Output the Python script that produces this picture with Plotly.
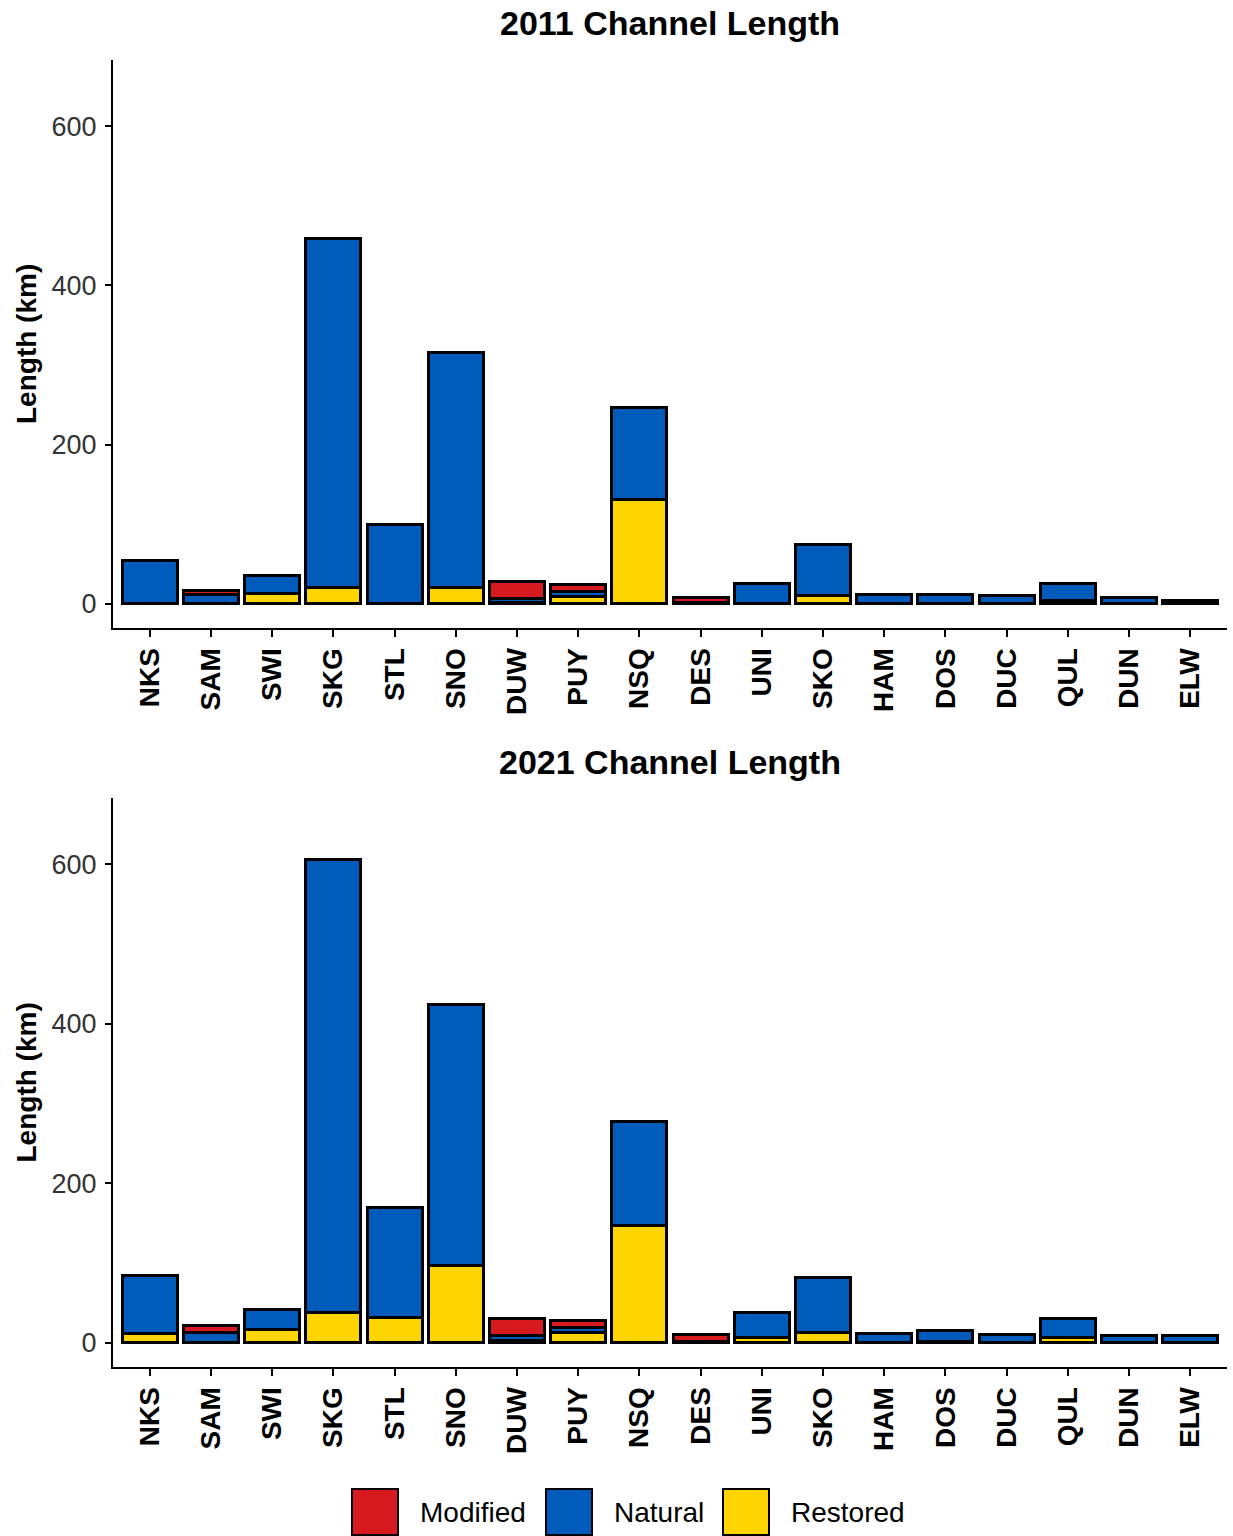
import plotly.graph_objects as go

# Watershed codes along the x axis
sites = ["NKS", "SAM", "SWI", "SKG", "STL", "SNO", "DUW", "PUY", "NSQ",
         "DES", "UNI", "SKO", "HAM", "DOS", "DUC", "QUL", "DUN", "ELW"]

# Channel length (km) by class, 2011
restored_2011 = [0, 0, 13, 20, 0, 21, 1, 9, 131, 0, 0, 10, 0, 0, 0, 4, 0, 0]
natural_2011 = [54, 11, 23, 439, 99, 294, 5, 6, 115, 1, 26, 65, 12, 12, 10, 22, 8, 4]
modified_2011 = [0, 6, 0, 0, 0, 0, 22, 9, 0, 7, 0, 0, 0, 0, 0, 0, 0, 0]

# Channel length (km) by class, 2021
restored_2021 = [12, 0, 16, 38, 31, 97, 3, 13, 147, 0, 6, 13, 0, 1, 0, 7, 0, 0]
natural_2021 = [72, 13, 25, 568, 138, 327, 6, 6, 130, 2, 32, 69, 12, 14, 10, 23, 9, 9]
modified_2021 = [0, 8, 0, 0, 0, 0, 21, 9, 0, 8, 0, 0, 0, 0, 0, 0, 0, 0]

classes = ["Modified", "Natural", "Restored"]
colors = {"Modified": "#D71A1F", "Natural": "#005BBB", "Restored": "#FFD500"}

W, H = 1233, 1536
FONT = "Liberation Sans, Arial, sans-serif"


def px_x(x):
    return x / W


def px_y(y):
    return 1 - y / H


def nz(vals):
    return [v if v else None for v in vals]


panels = [
    ("2011 Channel Length", {"Restored": restored_2011, "Natural": natural_2011,
                             "Modified": modified_2011}, (60, 628), 23),
    ("2021 Channel Length", {"Restored": restored_2021, "Natural": natural_2021,
                             "Modified": modified_2021}, (798, 1367), 762),
]

fig = go.Figure()
annotations = []
shapes = []
x_dom = [px_x(113), px_x(1227)]

for i, (title, data, (top, bottom), title_y) in enumerate(panels):
    sfx = "" if i == 0 else str(i + 1)
    # stacked from the bottom: Restored, Natural, Modified
    for cls in ["Restored", "Natural", "Modified"]:
        fig.add_trace(go.Bar(
            x=sites, y=nz(data[cls]), name=cls,
            marker=dict(color=colors[cls], line=dict(color="black", width=3)),
            width=0.9, showlegend=False,
            xaxis="x" + sfx, yaxis="y" + sfx,
        ))
    dom = [px_y(bottom), px_y(top)]
    fig.layout["xaxis" + sfx] = dict(
        domain=x_dom, anchor="y" + sfx, type="category",
        categoryorder="array", categoryarray=sites,
        range=[-0.6, len(sites) - 0.4],
        showline=True, linecolor="black", linewidth=2,
        ticks="outside", ticklen=7, tickwidth=2, tickcolor="black",
        tickangle=-90, showgrid=False, zeroline=False, automargin=False,
        tickfont=dict(family=FONT, size=28, color="black", weight="bold"),
    )
    fig.layout["yaxis" + sfx] = dict(
        domain=dom, anchor="x" + sfx, range=[-30.5, 683],
        tickvals=[0, 200, 400, 600],
        showline=True, linecolor="black", linewidth=2,
        ticks="outside", ticklen=6, tickwidth=2, tickcolor="black",
        ticklabelstandoff=3,
        showgrid=False, zeroline=False, automargin=False,
        tickfont=dict(family=FONT, size=27, color="#333333"),
    )
    annotations.append(dict(
        text="<b>" + title + "</b>", xref="paper", yref="paper",
        x=(x_dom[0] + x_dom[1]) / 2, y=px_y(title_y), xanchor="center",
        yanchor="middle", showarrow=False,
        font=dict(family=FONT, size=34, color="black"),
    ))
    annotations.append(dict(
        text="<b>Length (km)</b>", xref="paper", yref="paper",
        x=px_x(26), y=px_y((top + bottom) / 2), xanchor="center",
        yanchor="middle", textangle=-90, showarrow=False,
        font=dict(family=FONT, size=28, color="black"),
    ))

# Legend along the bottom edge
legend_items = [("Modified", 352, 418), ("Natural", 546, 612), ("Restored", 723, 789)]
for cls, kx, tx in legend_items:
    shapes.append(dict(
        type="rect", xref="paper", yref="paper",
        x0=px_x(kx), x1=px_x(kx + 46), y0=px_y(1535), y1=px_y(1489),
        fillcolor=colors[cls], line=dict(color="black", width=2),
    ))
    annotations.append(dict(
        text=cls, xref="paper", yref="paper", x=px_x(tx), y=px_y(1512),
        xanchor="left", yanchor="middle", showarrow=False,
        font=dict(family=FONT, size=28, color="black"),
    ))

fig.update_layout(
    template="none", barmode="stack", width=W, height=H,
    margin=dict(l=0, r=0, t=0, b=0),
    paper_bgcolor="white", plot_bgcolor="white",
    annotations=annotations, shapes=shapes, showlegend=False,
)

fig.write_html("out.html")
